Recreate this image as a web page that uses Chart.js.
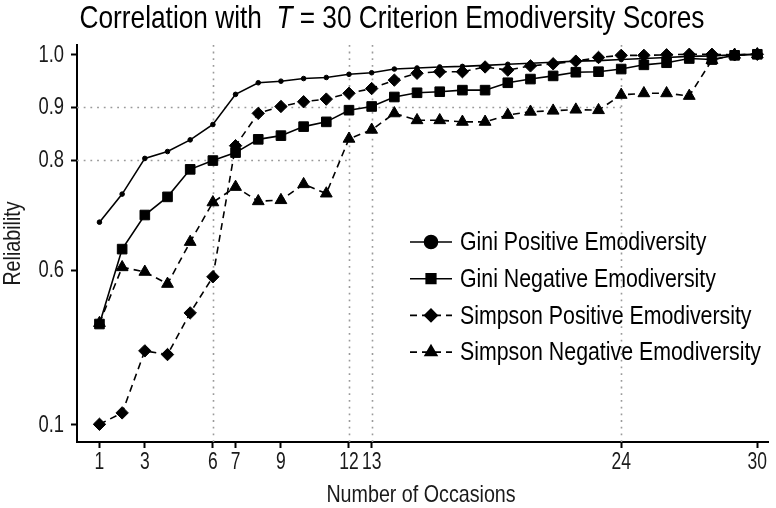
<!DOCTYPE html>
<html>
<head>
<meta charset="utf-8">
<script src="https://cdn.jsdelivr.net/npm/chart.js@4.4.1/dist/chart.umd.min.js"></script>
<style>
  html, body { margin: 0; padding: 0; background: #fff; }
  canvas { display: block; }
</style>
</head>
<body>
<canvas id="myChart" width="776" height="508"></canvas>
<script>
// number of occasions (x) and reliability of each index against the T = 30 score
const occasions = [1, 2, 3, 4, 5, 6, 7, 8, 9, 10, 11, 12, 13, 14, 15,
                   16, 17, 18, 19, 20, 21, 22, 23, 24, 25, 26, 27, 28, 29, 30];

const giniPositive = [0.687, 0.738, 0.803, 0.816, 0.838, 0.867, 0.924, 0.946, 0.949, 0.954,
                      0.956, 0.962, 0.965, 0.972, 0.974, 0.976, 0.977, 0.979, 0.981, 0.983,
                      0.985, 0.987, 0.988, 0.990, 0.992, 0.994, 0.996, 0.997, 0.999, 1.000];
const giniNegative = [0.425, 0.638, 0.700, 0.733, 0.783, 0.799, 0.814, 0.839, 0.846, 0.863,
                      0.872, 0.894, 0.901, 0.919, 0.927, 0.929, 0.932, 0.932, 0.946, 0.953,
                      0.959, 0.966, 0.967, 0.972, 0.980, 0.984, 0.992, 0.990, 0.998, 1.000];
const simpsonPositive = [0.100, 0.137, 0.338, 0.326, 0.461, 0.578, 0.827, 0.888, 0.901, 0.910,
                         0.915, 0.926, 0.935, 0.951, 0.964, 0.967, 0.967, 0.976, 0.970, 0.978,
                         0.982, 0.987, 0.994, 0.998, 0.998, 0.999, 1.000, 1.000, 0.999, 1.000];
const simpsonNegative = [0.428, 0.605, 0.594, 0.555, 0.651, 0.723, 0.751, 0.725, 0.727, 0.756,
                         0.739, 0.840, 0.857, 0.888, 0.875, 0.875, 0.872, 0.872, 0.885, 0.891,
                         0.893, 0.895, 0.894, 0.923, 0.926, 0.926, 0.921, 0.989, 0.999, 1.000];

const seriesNames = ['Gini Positive Emodiversity', 'Gini Negative Emodiversity',
                     'Simpson Positive Emodiversity', 'Simpson Negative Emodiversity'];

const xTicks = [1, 3, 6, 7, 9, 12, 13, 24, 30];
const yTicks = [0.1, 0.6, 0.8, 0.9, 1.0];

// reference lines: occasions marked vertically, reliability levels marked horizontally
const refOccasions = [6, 12, 13, 24];
const refLevels = [0.8, 0.9];
const refLevelEnds = [12, 24];

// the y axis in the original is stretched, not linear: this is where each
// y tick sits along the axis (0 = bottom, 1 = top)
const yTickSpots = [0.0446, 0.4332, 0.7103, 0.8438, 0.9766];

function warp(v) {
  let i = 1;
  while (i < yTicks.length - 1 && v > yTicks[i]) i++;
  const a = yTicks[i - 1], b = yTicks[i];
  return yTickSpots[i - 1] + (v - a) / (b - a) * (yTickSpots[i] - yTickSpots[i - 1]);
}
function unwarp(d) {
  let i = 1;
  while (i < yTickSpots.length - 1 && d > yTickSpots[i]) i++;
  const a = yTickSpots[i - 1], b = yTickSpots[i];
  return yTicks[i - 1] + (d - a) / (b - a) * (yTicks[i] - yTicks[i - 1]);
}

class WarpScale extends Chart.LinearScale {
  getPixelForValue(value) {
    return this.getPixelForDecimal(warp(value));
  }
  getValueForPixel(pixel) {
    return unwarp(this.getDecimalForPixel(pixel));
  }
}
WarpScale.id = 'warp';
WarpScale.defaults = Chart.LinearScale.defaults;
Chart.register(WarpScale);

// no condensed font is installed, so text is squeezed sideways by hand
const FONT = "'Liberation Sans', Arial, sans-serif";
const NARROW = 0.82;

function narrowText(ctx, text, x, y, size, align, style, angle, squeeze) {
  ctx.save();
  ctx.font = (style || 'normal') + ' ' + size + 'px ' + FONT;
  ctx.translate(x, y);
  if (angle) ctx.rotate(angle);
  ctx.scale(squeeze || NARROW, 1);
  ctx.textAlign = align;
  ctx.textBaseline = 'middle';
  ctx.fillText(text, 0, 0);
  ctx.restore();
}

const styles = [
  { pointStyle: 'circle',   radius: 2.3, legendRadius: 6.5, dash: [] },
  { pointStyle: 'rect',     radius: 6.8, legendRadius: 6.8, dash: [] },
  { pointStyle: 'rectRot',  radius: 6.2, legendRadius: 6.2, dash: [7, 5] },
  { pointStyle: 'triangle', radius: 6.8, legendRadius: 6.8, dash: [7, 5] }
];
const seriesValues = [giniPositive, giniNegative, simpsonPositive, simpsonNegative];

const datasets = seriesValues.map(function (vals, i) {
  return {
    label: seriesNames[i],
    data: occasions.map((o, j) => ({ x: o, y: vals[j] })),
    borderColor: '#000',
    backgroundColor: '#000',
    borderWidth: 1.6,
    borderDash: styles[i].dash,
    pointStyle: styles[i].pointStyle,
    pointRadius: styles[i].radius,
    pointBorderWidth: 1,
    pointBackgroundColor: '#000',
    pointBorderColor: '#000',
    legendRadius: styles[i].legendRadius,
    tension: 0,
    clip: false
  };
});

// dotted reference lines under the data
const refLines = {
  id: 'refLines',
  beforeDatasetsDraw(chart) {
    const ctx = chart.ctx, a = chart.chartArea;
    const x = chart.scales.x, y = chart.scales.y;
    ctx.save();
    ctx.strokeStyle = '#9a9a9a';
    ctx.lineWidth = 1.6;
    ctx.setLineDash([1.8, 4.9]);
    refOccasions.forEach(function (o) {
      const px = Math.round(x.getPixelForValue(o)) + 0.5;
      ctx.beginPath();
      ctx.moveTo(px, a.bottom);
      ctx.lineTo(px, a.top);
      ctx.stroke();
    });
    refLevels.forEach(function (lv, i) {
      const py = Math.round(y.getPixelForValue(lv)) + 0.5;
      ctx.beginPath();
      ctx.moveTo(a.left, py);
      ctx.lineTo(x.getPixelForValue(refLevelEnds[i]), py);
      ctx.stroke();
    });
    ctx.restore();
  }
};

// tick labels and axis titles, in the squeezed font
const axisText = {
  id: 'axisText',
  afterDraw(chart) {
    const ctx = chart.ctx, a = chart.chartArea;
    const x = chart.scales.x, y = chart.scales.y;
    ctx.save();
    ctx.fillStyle = '#1a1a1a';
    xTicks.forEach(function (v) {
      narrowText(ctx, String(v), x.getPixelForValue(v), 463, 23, 'center', 'normal', 0, 0.76);
    });
    yTicks.forEach(function (v) {
      narrowText(ctx, v.toFixed(1), 64, y.getPixelForValue(v) + 1, 23, 'right', 'normal', 0, 0.8);
    });
    narrowText(ctx, 'Number of Occasions', 421, 495, 24, 'center');
    narrowText(ctx, 'Reliability', 13, (a.top + a.bottom) / 2, 24, 'center', 'normal', -Math.PI / 2);
    ctx.restore();
  }
};

// legend sitting inside the plot, no box
const insideLegend = {
  id: 'insideLegend',
  afterDatasetsDraw(chart) {
    const ctx = chart.ctx;
    const left = 410, keyW = 42, textX = 460, top = 242, step = 36.7;
    ctx.save();
    chart.data.datasets.forEach(function (ds, i) {
      const cy = top + i * step;
      ctx.strokeStyle = '#000';
      ctx.fillStyle = '#000';
      ctx.lineWidth = 1.6;
      ctx.setLineDash(ds.borderDash);
      ctx.beginPath();
      ctx.moveTo(left, cy);
      ctx.lineTo(left + keyW, cy);
      ctx.stroke();
      ctx.setLineDash([]);
      Chart.helpers.drawPoint(ctx, {
        pointStyle: ds.pointStyle, radius: ds.legendRadius, rotation: 0, borderWidth: 1
      }, left + keyW / 2, cy);
      ctx.fillStyle = '#000';
      narrowText(ctx, ds.label, textX, cy + 1, 26, 'left');
    });
    ctx.restore();
  }
};

// title with an italic T
const mixedTitle = {
  id: 'mixedTitle',
  afterDraw(chart) {
    const ctx = chart.ctx;
    const parts = [
      ['Correlation with  ', 'normal'],
      ['T', 'italic'],
      [' = 30 Criterion Emodiversity Scores', 'normal']
    ];
    ctx.save();
    ctx.fillStyle = '#000';
    let total = 0;
    parts.forEach(function (p) {
      ctx.font = p[1] + ' 32px ' + FONT;
      total += ctx.measureText(p[0]).width * NARROW;
    });
    let x = 392 - total / 2;
    parts.forEach(function (p) {
      narrowText(ctx, p[0], x, 19, 32, 'left', p[1]);
      ctx.font = p[1] + ' 32px ' + FONT;
      x += ctx.measureText(p[0]).width * NARROW;
    });
    ctx.restore();
  }
};

new Chart(document.getElementById('myChart'), {
  type: 'line',
  data: { datasets: datasets },
  options: {
    responsive: false,
    animation: false,
    devicePixelRatio: 1,
    layout: { padding: { top: 45, right: 4, left: 0, bottom: 0 } },
    plugins: {
      legend: { display: false },
      title: { display: false },
      tooltip: { enabled: false }
    },
    scales: {
      x: {
        type: 'linear',
        min: 0.01,
        max: 30.48,
        afterBuildTicks: function (s) { s.ticks = xTicks.map(v => ({ value: v })); },
        afterFit: function (s) { s.height = 66; },
        border: { color: '#000', width: 2 },
        grid: { drawOnChartArea: false, tickLength: 6, tickColor: '#000', tickWidth: 2 },
        ticks: { display: false, autoSkip: false }
      },
      y: {
        type: 'warp',
        min: 0.05,
        max: 1.02,
        afterBuildTicks: function (s) { s.ticks = yTicks.map(v => ({ value: v })); },
        afterFit: function (s) { s.width = 77; },
        border: { color: '#000', width: 2 },
        grid: { drawOnChartArea: false, tickLength: 6, tickColor: '#000', tickWidth: 2 },
        ticks: { display: false, autoSkip: false }
      }
    }
  },
  plugins: [refLines, insideLegend, axisText, mixedTitle]
});
</script>
</body>
</html>
